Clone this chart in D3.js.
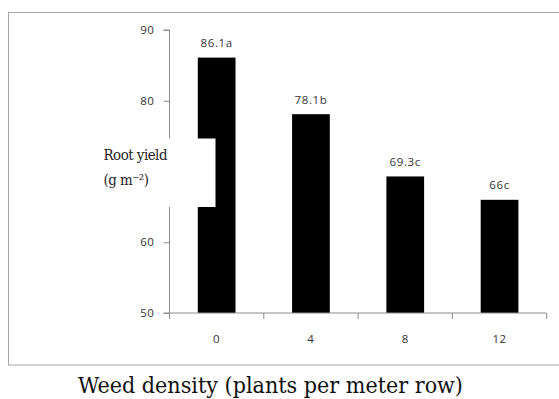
<!DOCTYPE html>
<html><head><meta charset="utf-8">
<script src="https://cdn.jsdelivr.net/npm/d3@7"></script>
<style>html,body{margin:0;padding:0;background:#fff;}svg{display:block;}</style>
</head><body>
<svg id="chart" width="559" height="399"></svg>
<script>
const categories = ["0", "4", "8", "12"];
const values = [86.1, 78.1, 69.3, 66];
const valueLabels = ["86.1a", "78.1b", "69.3c", "66c"];
const yTicks = [50, 60, 70, 80, 90];
const hiddenTicks = [70]; // covered by the axis-title box in the original
const xTitle = "Weed density (plants per meter row)";

const svg = d3.select("#chart");
const axisColor = "#8c8c8c";

// outer frame
svg.append("rect").attr("x", 8.5).attr("y", 12.5).attr("width", 560).attr("height", 352.5)
  .attr("fill", "#fff").attr("stroke", "#a6a6a6").attr("stroke-width", 1);

const x0 = 169.5, x1 = 546.7, yTop = 30, yBot = 313;
const x = d3.scaleBand().domain(categories).range([x0, x1]).paddingInner(0.6).paddingOuter(0.3);
const y = d3.scaleLinear().domain([50, 90]).range([yBot, yTop]);

// bars
svg.append("g").selectAll("rect").data(values).join("rect")
  .attr("x", (d, i) => x(categories[i]))
  .attr("y", d => y(d))
  .attr("width", x.bandwidth())
  .attr("height", d => y(50) - y(d))
  .attr("fill", "#000");

const tickFont = "'Open Sans', sans-serif";
// y axis
const yAxis = d3.axisLeft(y).tickValues(yTicks).tickSize(6).tickPadding(9).tickFormat(d3.format("d"));
const gy = svg.append("g").attr("transform", `translate(${x0},0)`).call(yAxis);
gy.select(".domain").attr("stroke", axisColor).attr("d", `M-6,${yTop}H0V${yBot}H-6`);
gy.selectAll(".tick line").attr("stroke", axisColor);
gy.selectAll(".tick text").attr("fill", "#333").style("font-family", tickFont).style("font-size", "11.5px").attr("letter-spacing", "0.6");
gy.selectAll(".tick").filter(d => hiddenTicks.includes(d)).select("text").remove();

// x axis
const xAxis = d3.axisBottom(x).tickSize(0).tickPadding(22);
const gx = svg.append("g").attr("transform", `translate(0,${yBot})`).call(xAxis);
gx.select(".domain").attr("stroke", axisColor).attr("d", `M${x0},0H${x1}`);
gx.selectAll(".tick text").attr("fill", "#333").style("font-family", tickFont).style("font-size", "11.5px").attr("letter-spacing", "0.6");
// category boundary ticks
const bounds = d3.range(categories.length + 1).map(i => x0 + i * (x1 - x0) / categories.length);
gx.selectAll("line.bt").data(bounds).join("line").attr("class", "bt")
  .attr("x1", d => d).attr("x2", d => d).attr("y1", 0).attr("y2", 6).attr("stroke", axisColor);

// value labels
svg.append("g").selectAll("text").data(values).join("text")
  .attr("x", (d, i) => x(categories[i]) + x.bandwidth() / 2)
  .attr("y", d => y(d) - 10.5)
  .attr("text-anchor", "middle")
  .attr("fill", "#333")
  .attr("letter-spacing", "0.6")
  .style("font-family", tickFont).style("font-size", "11.5px")
  .text((d, i) => valueLabels[i]);

// y-axis title box (covers part of chart)
svg.append("rect").attr("x", 98).attr("y", 138.5).attr("width", 117.5).attr("height", 68.5).attr("fill", "#fff");
const serif = "'DejaVu Serif', serif";
const t1 = svg.append("text").attr("x", 103.5).attr("y", 160).attr("fill", "#222")
  .style("font-family", serif).style("font-stretch", "condensed").style("font-size", "13.5px").attr("letter-spacing", "-0.5").text("Root yield");
const w1 = t1.node().getComputedTextLength();
t1.style("font-size", (13.5 * 63 / w1).toFixed(2) + "px");
const t2 = svg.append("text").attr("x", 103.5).attr("y", 185).attr("fill", "#222")
  .style("font-family", serif).style("font-stretch", "condensed").style("font-size", t1.style("font-size")).attr("letter-spacing", "-0.5")
  .text("(g m\u207B\u00B2)");

// x title
const tt = svg.append("text").attr("x", 270.5).attr("y", 393).attr("text-anchor", "middle").attr("fill", "#111")
  .style("font-family", serif).style("font-stretch", "condensed").style("font-size", "19px").text(xTitle);
const w = tt.node().getComputedTextLength();
tt.style("font-size", (19 * 385 / w).toFixed(2) + "px");
</script>
</body></html>
